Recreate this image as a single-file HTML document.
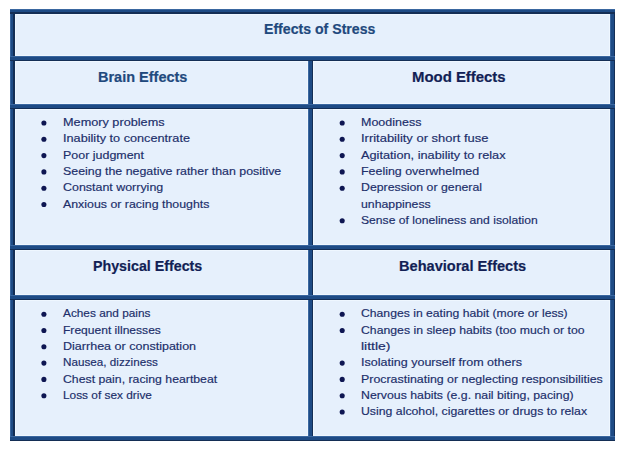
<!DOCTYPE html>
<html><head><meta charset="utf-8">
<style>
html,body{margin:0;padding:0;background:#fff;width:628px;height:453px;overflow:hidden;position:relative}
svg.g{position:absolute;left:0;top:0}
.t{position:absolute;font-family:"Liberation Sans",sans-serif;white-space:nowrap;line-height:20px;height:20px}
.h{font-weight:bold;font-size:14.7px;-webkit-text-stroke:0.2px currentColor}
.b{font-size:12.3px;color:#202E6A}
.b{-webkit-text-stroke:0.18px #202E6A}
</style></head><body>
<svg class="g" width="628" height="453" viewBox="0 0 628 453"><g shape-rendering="crispEdges">
<rect x="10" y="9" width="605" height="432" fill="#E6F0FC"/>
<rect x="10" y="14" width="605" height="1" fill="#EFF7FF"/>
<rect x="10" y="55" width="605" height="1" fill="#EFF7FF"/>
<rect x="10" y="61" width="605" height="1" fill="#EFF7FF"/>
<rect x="10" y="103" width="605" height="1" fill="#EFF7FF"/>
<rect x="10" y="109" width="605" height="1" fill="#EFF7FF"/>
<rect x="10" y="244" width="605" height="1" fill="#EFF7FF"/>
<rect x="10" y="250" width="605" height="1" fill="#EFF7FF"/>
<rect x="10" y="294" width="605" height="1" fill="#EFF7FF"/>
<rect x="10" y="300" width="605" height="1" fill="#EFF7FF"/>
<rect x="10" y="435" width="605" height="1" fill="#EFF7FF"/>
<rect x="15" y="9" width="1" height="432" fill="#EFF7FF"/>
<rect x="307" y="56" width="1" height="385" fill="#EFF7FF"/>
<rect x="313" y="56" width="1" height="385" fill="#EFF7FF"/>
<rect x="609" y="9" width="1" height="432" fill="#EFF7FF"/>
<rect x="10" y="9" width="1" height="432" fill="#3A67A0"/>
<rect x="11" y="9" width="2" height="432" fill="#1E4B85"/>
<rect x="13" y="9" width="2" height="432" fill="#142E55"/>
<rect x="308" y="56" width="1" height="385" fill="#3A67A0"/>
<rect x="309" y="56" width="3" height="385" fill="#1E4B85"/>
<rect x="312" y="56" width="1" height="385" fill="#142E55"/>
<rect x="610" y="9" width="1" height="432" fill="#3A67A0"/>
<rect x="611" y="9" width="3" height="432" fill="#1E4B85"/>
<rect x="614" y="9" width="1" height="432" fill="#142E55"/>
<rect x="10" y="9" width="605" height="1" fill="#3A67A0"/>
<rect x="10" y="10" width="605" height="2" fill="#1E4B85"/>
<rect x="10" y="12" width="605" height="2" fill="#142E55"/>
<rect x="10" y="56" width="605" height="1" fill="#3A67A0"/>
<rect x="10" y="57" width="605" height="3" fill="#1E4B85"/>
<rect x="10" y="60" width="605" height="1" fill="#142E55"/>
<rect x="10" y="104" width="605" height="1" fill="#3A67A0"/>
<rect x="10" y="105" width="605" height="3" fill="#1E4B85"/>
<rect x="10" y="108" width="605" height="1" fill="#142E55"/>
<rect x="10" y="245" width="605" height="1" fill="#3A67A0"/>
<rect x="10" y="246" width="605" height="3" fill="#1E4B85"/>
<rect x="10" y="249" width="605" height="1" fill="#142E55"/>
<rect x="10" y="295" width="605" height="1" fill="#3A67A0"/>
<rect x="10" y="296" width="605" height="3" fill="#1E4B85"/>
<rect x="10" y="299" width="605" height="1" fill="#142E55"/>
<rect x="10" y="436" width="605" height="1" fill="#3A67A0"/>
<rect x="10" y="437" width="605" height="3" fill="#1E4B85"/>
<rect x="10" y="440" width="605" height="1" fill="#142E55"/>
</g>
<g fill="#0E1652"><circle cx="43.90" cy="123.00" r="2.55"/><circle cx="43.90" cy="139.30" r="2.55"/><circle cx="43.90" cy="155.60" r="2.55"/><circle cx="43.90" cy="171.90" r="2.55"/><circle cx="43.90" cy="188.20" r="2.55"/><circle cx="43.90" cy="204.50" r="2.55"/><circle cx="342.20" cy="123.00" r="2.55"/><circle cx="342.20" cy="139.30" r="2.55"/><circle cx="342.20" cy="155.60" r="2.55"/><circle cx="342.20" cy="171.90" r="2.55"/><circle cx="342.20" cy="188.20" r="2.55"/><circle cx="342.20" cy="220.80" r="2.55"/><circle cx="43.90" cy="314.20" r="2.55"/><circle cx="43.90" cy="330.50" r="2.55"/><circle cx="43.90" cy="346.80" r="2.55"/><circle cx="43.90" cy="363.10" r="2.55"/><circle cx="43.90" cy="379.40" r="2.55"/><circle cx="43.90" cy="395.70" r="2.55"/><circle cx="342.20" cy="314.20" r="2.55"/><circle cx="342.20" cy="330.50" r="2.55"/><circle cx="342.20" cy="363.10" r="2.55"/><circle cx="342.20" cy="379.40" r="2.55"/><circle cx="342.20" cy="395.70" r="2.55"/><circle cx="342.20" cy="412.00" r="2.55"/></g></svg>
<div class="t h" style="color:#1F497D;left:263.74px;top:19.40px;transform-origin:0 15px;transform:scale(0.9609,1)">Effects of Stress</div>
<div class="t h" style="color:#1F497D;left:98.01px;top:66.90px;transform-origin:0 15px;transform:scale(0.9871,1)">Brain Effects</div>
<div class="t h" style="color:#121F55;left:411.58px;top:66.90px;transform-origin:0 15px;transform:scale(1.0154,1)">Mood Effects</div>
<div class="t h" style="color:#121F55;left:92.63px;top:255.60px;transform-origin:0 15px;transform:scale(0.9694,1)">Physical Effects</div>
<div class="t h" style="color:#121F55;left:398.71px;top:255.60px;transform-origin:0 15px;transform:scale(0.9921,1)">Behavioral Effects</div>
<div class="t b" style="left:62.97px;top:112.10px;transform-origin:0 14px;transform:scale(1.0320,0.95)">Memory problems</div>
<div class="t b" style="left:62.97px;top:128.40px;transform-origin:0 14px;transform:scale(1.0320,0.95)">Inability to concentrate</div>
<div class="t b" style="left:62.99px;top:144.70px;transform-origin:0 14px;transform:scale(1.0127,0.95)">Poor judgment</div>
<div class="t b" style="left:62.99px;top:161.00px;transform-origin:0 14px;transform:scale(1.0070,0.95)">Seeing the negative rather than positive</div>
<div class="t b" style="left:62.99px;top:177.30px;transform-origin:0 14px;transform:scale(1.0112,0.95)">Constant worrying</div>
<div class="t b" style="left:62.90px;top:193.60px;transform-origin:0 14px;transform:scale(1.0055,0.95)">Anxious or racing thoughts</div>
<div class="t b" style="left:360.98px;top:112.10px;transform-origin:0 14px;transform:scale(1.0155,0.95)">Moodiness</div>
<div class="t b" style="left:360.95px;top:128.40px;transform-origin:0 14px;transform:scale(1.0538,0.95)">Irritability or short fuse</div>
<div class="t b" style="left:360.90px;top:144.70px;transform-origin:0 14px;transform:scale(1.0367,0.95)">Agitation, inability to relax</div>
<div class="t b" style="left:360.99px;top:161.00px;transform-origin:0 14px;transform:scale(1.0104,0.95)">Feeling overwhelmed</div>
<div class="t b" style="left:361.00px;top:177.30px;transform-origin:0 14px;transform:scale(1.0000,0.95)">Depression or general</div>
<div class="t b" style="left:361.00px;top:193.60px;transform-origin:0 14px;transform:scale(1.0000,0.95)">unhappiness</div>
<div class="t b" style="left:361.01px;top:209.90px;transform-origin:0 14px;transform:scale(0.9865,0.95)">Sense of loneliness and isolation</div>
<div class="t b" style="left:62.90px;top:303.30px;transform-origin:0 14px;transform:scale(0.9615,0.95)">Aches and pains</div>
<div class="t b" style="left:63.02px;top:319.60px;transform-origin:0 14px;transform:scale(0.9808,0.95)">Frequent illnesses</div>
<div class="t b" style="left:62.98px;top:335.90px;transform-origin:0 14px;transform:scale(1.0194,0.95)">Diarrhea or constipation</div>
<div class="t b" style="left:63.05px;top:352.20px;transform-origin:0 14px;transform:scale(0.9505,0.95)">Nausea, dizziness</div>
<div class="t b" style="left:63.00px;top:368.50px;transform-origin:0 14px;transform:scale(0.9980,0.95)">Chest pain, racing heartbeat</div>
<div class="t b" style="left:63.04px;top:384.80px;transform-origin:0 14px;transform:scale(0.9637,0.95)">Loss of sex drive</div>
<div class="t b" style="left:361.01px;top:303.30px;transform-origin:0 14px;transform:scale(0.9913,0.95)">Changes in eating habit (more or less)</div>
<div class="t b" style="left:361.00px;top:319.60px;transform-origin:0 14px;transform:scale(0.9969,0.95)">Changes in sleep habits (too much or too</div>
<div class="t b" style="left:360.86px;top:335.90px;transform-origin:0 14px;transform:scale(1.1375,0.95)">little)</div>
<div class="t b" style="left:360.98px;top:352.20px;transform-origin:0 14px;transform:scale(1.0191,0.95)">Isolating yourself from others</div>
<div class="t b" style="left:360.99px;top:368.50px;transform-origin:0 14px;transform:scale(1.0079,0.95)">Procrastinating or neglecting responsibilities</div>
<div class="t b" style="left:361.00px;top:384.80px;transform-origin:0 14px;transform:scale(1.0000,0.95)">Nervous habits (e.g. nail biting, pacing)</div>
<div class="t b" style="left:361.00px;top:401.10px;transform-origin:0 14px;transform:scale(0.9991,0.95)">Using alcohol, cigarettes or drugs to relax</div>
</body></html>
